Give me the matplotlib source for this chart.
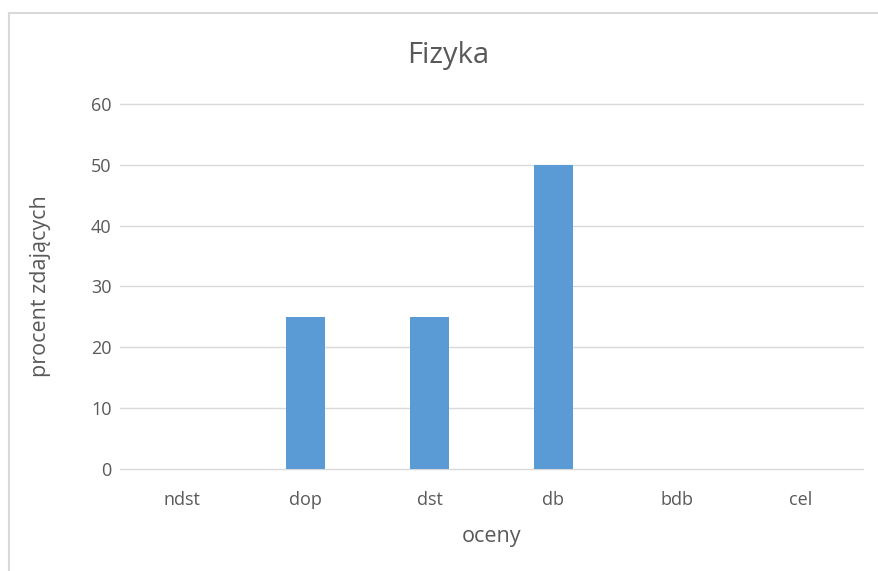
import matplotlib.pyplot as plt
from matplotlib.lines import Line2D

# categories and values
oceny = ["ndst", "dop", "dst", "db", "bdb", "cel"]
procent = [0, 25, 25, 50, 0, 0]
y_ticks = [0, 10, 20, 30, 40, 50, 60]

text_color = "#595959"
plt.rcParams['font.family'] = ['Open Sans', 'DejaVu Sans']

fig = plt.figure(figsize=(8.79, 5.71), dpi=100)
ax = fig.add_axes([0.1365, 0.1786, 0.8453, 0.6393])

x = range(len(oceny))
ax.bar(x, procent, width=0.315, color="#5B9BD5", zorder=3)

ax.set_xlim(-0.5, len(oceny) - 0.5)
ax.set_ylim(0, 60)
ax.set_yticks(y_ticks)
ax.set_xticks(list(x))
ax.set_xticklabels(oceny)
ax.tick_params(length=0, labelsize=13, colors=text_color)
ax.tick_params(axis='x', pad=16)
ax.tick_params(axis='y', pad=6)
ax.grid(axis='y', color="#D9D9D9", linewidth=1, zorder=0)
for line in ax.get_ygridlines():
    line.set_clip_on(False)
for s in ax.spines.values():
    s.set_visible(False)

fig.text(0.51, 0.903, "Fizyka", fontsize=21, color=text_color, ha='center', va='center')
ax.set_xlabel("oceny", fontsize=15.5, color=text_color, labelpad=12)
ax.set_ylabel("procent zdających", fontsize=15.5, color=text_color, labelpad=29)

# chart border (top and left visible in the reference)
fig.add_artist(Line2D([0.0105, 0.0105], [0, 0.977], color="#D9D9D9", lw=1.5))
fig.add_artist(Line2D([0.0105, 1.0], [0.977, 0.977], color="#D9D9D9", lw=1.5))

fig.savefig("out.png", dpi=100)
